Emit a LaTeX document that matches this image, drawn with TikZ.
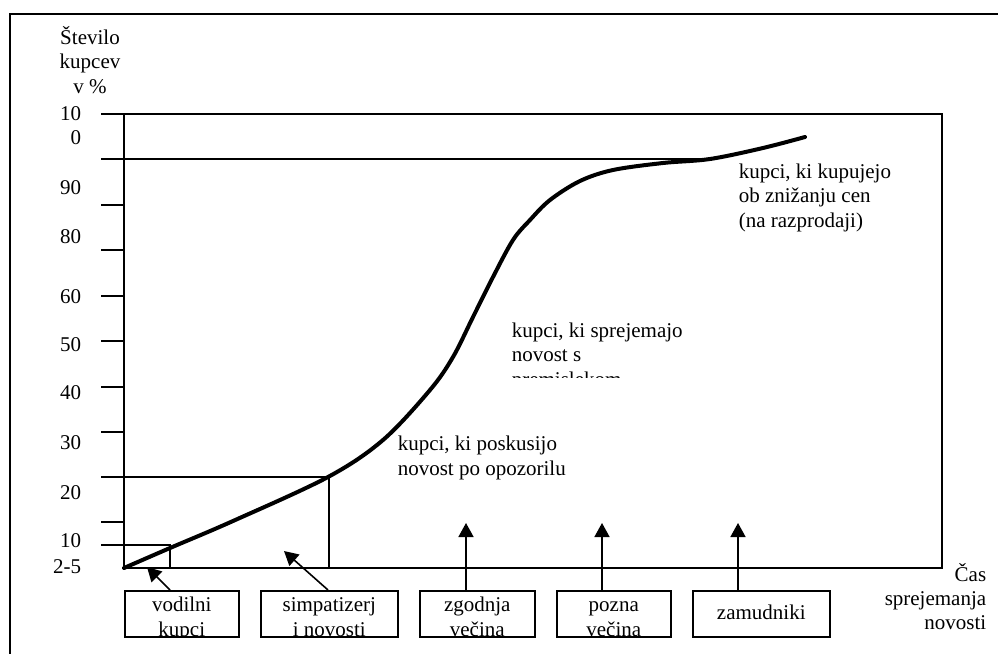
\documentclass[tikz,border=0pt]{standalone}
\usepackage{fontspec}
\setmainfont{Liberation Serif}
\usetikzlibrary{arrows.meta,calc}
\begin{document}
\begin{tikzpicture}[x=1pt,y=-1pt,line width=1.6pt,
  txt/.style={inner sep=0pt,font=\fontsize{21}{24.5}\selectfont},
  ticklbl/.style={txt,anchor=base east},
  catbox/.style={draw,line width=1.6pt,anchor=north west,minimum height=46pt,inner sep=0pt},
  ptr/.style={line width=1.6pt,-{Triangle[width=15pt,length=14pt]}},
  curve/.style={line width=4pt,line cap=round}]
\useasboundingbox (0,0) rectangle (998,653);
\clip (0,0) rectangle (998,653);

% outer frame (runs past the right and bottom edges)
\draw (10,14) rectangle (1020,680);

% axes frame
\draw (124,114) rectangle (942,568);
\draw (101,114) -- (124,114);
\foreach \yy in {205,250,296,341,387,432,522} \draw (101,\yy) -- (124,\yy);
\draw (101,159) -- (710,159);
\draw (101,477) -- (329,477) -- (329,568);
\draw (101,545) -- (170,545) -- (170,568);

% axis title (anchored at the baseline of its last line)
\node[txt,align=center,anchor=base,font=\fontsize{21}{24.5}\selectfont] (ytitle) at (90,93) {Število\\kupcev\\v \%};

% tick labels
\node[ticklbl] (t100a) at (82,120) {10};
\node[ticklbl] (t100b) at (82,144) {0};
\node[ticklbl] (t90) at (82,194) {90};
\node[ticklbl] (t80) at (82,243) {80};
\node[ticklbl] (t60) at (82,303) {60};
\node[ticklbl] (t50) at (82,351) {50};
\node[ticklbl] (t40) at (82,399) {40};
\node[ticklbl] (t30) at (82,449) {30};
\node[ticklbl] (t20) at (82,499) {20};
\node[ticklbl] (t10) at (82,547) {10};
\node[ticklbl] (t25) at (82,573) {2-5};

% adoption curve
\draw[curve] plot[smooth,tension=0.55] coordinates {
  (124,568) (170,548) (233,521) (328,477) (383,440) (430,390)
  (453,357) (473,317) (493,277) (513,240) (530,220) (550,200)
  (580,181) (613,170) (663,163) (710,159) (763,148) (805,137)};

% segment descriptions (anchored at the baseline of the last line)
\node[txt,align=left,anchor=base west] (lblA) at (397,475) {kupci, ki poskusijo\\novost po opozorilu};
\begin{scope}
  \clip (500,300) rectangle (700,377.5);
  \node[txt,align=left,anchor=base west] (lblB) at (511,386) {kupci, ki sprejemajo\\novost s\\premislekom};
\end{scope}
\node[txt,align=left,anchor=base west] (lblC) at (738,227) {kupci, ki kupujejo\\ob znižanju cen\\(na razprodaji)};
\node[txt,align=right,anchor=base east,font=\fontsize{21}{24}\selectfont] (xtitle) at (987,629) {Čas\\sprejemanja\\novosti};

% category boxes
\node[catbox,minimum width=114pt] (b1) at (124,590) {};
\node[catbox,minimum width=137pt] (b2) at (260,590) {};
\node[catbox,minimum width=115pt] (b3) at (419,590) {};
\node[catbox,minimum width=114pt] (b4) at (556,590) {};
\node[catbox,minimum width=137pt] (b5) at (692,590) {};

\begin{scope}
  \clip (b1.north west) rectangle (b1.south east);
  \node[txt,align=center,anchor=base] (b1t) at ($(b1.north)+(0,46)$) {vodilni\\kupci};
\end{scope}
\begin{scope}
  \clip (b2.north west) rectangle (b2.south east);
  \node[txt,align=center,anchor=base] (b2t) at ($(b2.north)+(0,46)$) {simpatizerj\\i novosti};
\end{scope}
\begin{scope}
  \clip (b3.north west) rectangle (b3.south east);
  \node[txt,align=center,anchor=base] (b3t) at ($(b3.north)+(0,46)$) {zgodnja\\večina};
\end{scope}
\begin{scope}
  \clip (b4.north west) rectangle (b4.south east);
  \node[txt,align=center,anchor=base] (b4t) at ($(b4.north)+(0,46)$) {pozna\\večina};
\end{scope}
\node[txt,anchor=base] (b5t) at ($(b5.north)+(0,29)$) {zamudniki};

% pointers from boxes into the chart
\coordinate (h1) at (147,567);
\coordinate (h2) at (284,551);
\coordinate (h3) at ($(b3.north west)+(47,-67)$);
\coordinate (h4) at ($(b4.north west)+(46,-67)$);
\coordinate (h5) at ($(b5.north west)+(46,-67)$);
\draw[ptr] ($(b1.north west)+(46,0)$) -- (h1);
\draw[ptr] ($(b2.north west)+(68,0)$) -- (h2);
\draw[ptr] ($(b3.north west)+(47,0)$) -- (h3);
\draw[ptr] ($(b4.north west)+(46,0)$) -- (h4);
\draw[ptr] ($(b5.north west)+(46,0)$) -- (h5);
\end{tikzpicture}
\end{document}
